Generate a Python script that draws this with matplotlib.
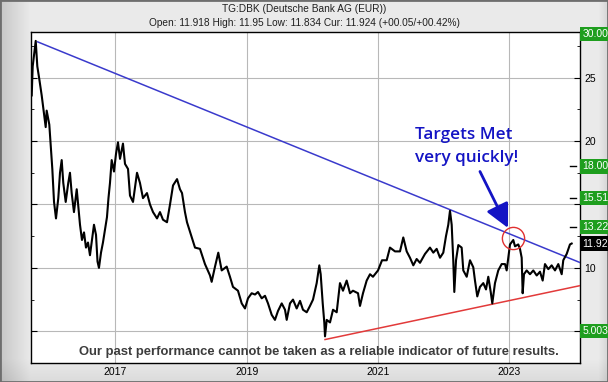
import numpy as np
import matplotlib
matplotlib.use("Agg")
import matplotlib.pyplot as plt

# DBK close (decimal year, EUR)
years = [2015.723, 2015.738, 2015.784, 2015.808, 2015.838, 2015.875, 2015.899, 2015.936,
         2015.951, 2015.991, 2016.017, 2016.037, 2016.063, 2016.093, 2016.128, 2016.154,
         2016.180, 2016.204, 2016.241, 2016.280, 2016.306, 2016.332, 2016.367, 2016.409,
         2016.433, 2016.459, 2016.489, 2016.520, 2016.550, 2016.581, 2016.611, 2016.642,
         2016.672, 2016.703, 2016.726, 2016.748, 2016.779, 2016.809, 2016.840, 2016.870,
         2016.893, 2016.916, 2016.942, 2016.977, 2017.008, 2017.038, 2017.069, 2017.114,
         2017.145, 2017.191, 2017.221, 2017.267, 2017.328, 2017.373, 2017.419, 2017.480,
         2017.526, 2017.572, 2017.633, 2017.678, 2017.724, 2017.785, 2017.831, 2017.877,
         2017.938, 2017.983, 2018.014, 2018.059, 2018.090, 2018.151, 2018.212, 2018.288,
         2018.364, 2018.441, 2018.466, 2018.517, 2018.567, 2018.619, 2018.695, 2018.745,
         2018.791, 2018.867, 2018.924, 2018.974, 2019.020, 2019.076, 2019.127, 2019.172,
         2019.229, 2019.279, 2019.325, 2019.381, 2019.431, 2019.477, 2019.534, 2019.584,
         2019.610, 2019.660, 2019.706, 2019.762, 2019.813, 2019.858, 2019.915, 2019.965,
         2020.011, 2020.067, 2020.107, 2020.128, 2020.159, 2020.183, 2020.194, 2020.220,
         2020.270, 2020.316, 2020.372, 2020.422, 2020.468, 2020.524, 2020.575, 2020.620,
         2020.697, 2020.727, 2020.773, 2020.829, 2020.880, 2020.925, 2021.002, 2021.063,
         2021.134, 2021.184, 2021.261, 2021.337, 2021.387, 2021.439, 2021.489, 2021.540,
         2021.591, 2021.642, 2021.718, 2021.794, 2021.845, 2021.896, 2021.947, 2021.997,
         2022.038, 2022.073, 2022.099, 2022.125, 2022.149, 2022.165, 2022.191, 2022.226,
         2022.277, 2022.302, 2022.354, 2022.404, 2022.454, 2022.480, 2022.515, 2022.556,
         2022.607, 2022.648, 2022.683, 2022.720, 2022.744, 2022.785, 2022.835, 2022.887,
         2022.938, 2022.963, 2022.988, 2023.014, 2023.064, 2023.090, 2023.140, 2023.166,
         2023.192, 2023.207, 2023.227, 2023.268, 2023.319, 2023.369, 2023.421, 2023.471,
         2023.512, 2023.547, 2023.598, 2023.649, 2023.700, 2023.750, 2023.802, 2023.826,
         2023.878, 2023.928, 2023.954]
prices = [23.6, 25.9, 27.9, 25.9, 24.9, 23.6, 22.6, 21.1,
          22.4, 21.3, 19.3, 17.8, 15.2, 13.9, 15.5, 17.5,
          18.5, 16.7, 15.2, 16.7, 17.5, 15.9, 14.4, 16.2,
          14.9, 13.4, 12.2, 12.8, 11.6, 12.0, 11.0, 12.2,
          13.4, 12.6, 10.5, 10.0, 11.2, 12.0, 13.0, 14.0,
          15.5, 16.7, 18.5, 17.6, 19.0, 19.9, 18.6, 19.8,
          18.2, 17.8, 15.7, 15.2, 17.5, 16.7, 15.5, 15.9,
          15.0, 14.4, 13.9, 14.4, 13.8, 13.6, 15.0, 16.5,
          17.0, 16.2, 15.9, 14.4, 13.6, 12.6, 11.6, 11.5,
          10.3, 9.4, 8.9, 10.1, 11.2, 9.8, 10.1, 9.3,
          8.5, 8.2, 7.2, 6.8, 7.6, 8.0, 7.9, 8.1,
          7.6, 7.8, 7.2, 6.3, 5.9, 6.6, 7.2, 6.7,
          5.9, 7.2, 7.5, 6.8, 7.4, 6.7, 6.5, 7.0,
          7.5, 8.8, 10.2, 9.5, 7.2, 5.7, 4.6, 5.9,
          5.7, 6.7, 6.5, 8.8, 8.2, 9.0, 8.0, 8.2,
          8.0, 7.0, 8.0, 9.0, 9.5, 9.3, 9.8, 10.6,
          10.6, 11.6, 11.3, 11.3, 12.4, 11.3, 10.8, 10.2,
          10.7, 10.4, 11.1, 11.6, 11.2, 11.5, 10.8, 11.2,
          12.5, 13.4, 14.5, 13.4, 10.6, 8.1, 10.6, 11.8,
          11.6, 9.8, 9.3, 10.6, 10.05, 9.0, 7.75, 8.5,
          8.8, 8.3, 9.3, 8.1, 7.2, 8.8, 9.8, 10.3,
          10.3, 9.8, 10.8, 11.85, 12.2, 11.7, 11.85, 11.5,
          10.8, 8.0, 9.5, 9.8, 9.5, 9.8, 9.4, 9.7,
          9.0, 10.3, 9.9, 10.2, 9.8, 10.3, 9.5, 10.6,
          11.1, 11.85, 11.92]

# trend lines (start, end)
resist_x = [2015.814, 2024.081]
resist_y = [27.82, 10.42]
support_x = [2020.194, 2024.081]
support_y = [4.35, 8.6]

# target levels on the right axis
target_levels = [28.46, 18.00, 15.51, 13.22, 5.003]
target_labels = ["30.00", "18.00", "15.51", "13.22", "5.003"]
cur_price = 11.92

title = "TG:DBK (Deutsche Bank AG (EUR))"
subtitle = "Open: 11.918 High: 11.95 Low: 11.834 Cur: 11.924 (+00.05/+00.42%)"
disclaimer = "Our past performance cannot be taken as a reliable indicator of future results."

W, H = 608, 382
fig = plt.figure(figsize=(W / 100, H / 100), dpi=100)

# grey gradient background
bg = fig.add_axes([0, 0, 1, 1], zorder=-10)
gx = np.linspace(0, 1, W)
gy = np.linspace(0, 1, H)
GX, GY = np.meshgrid(gx, gy)
shade = 0.92 - 0.14 * np.clip(1 - GX / 0.05, 0, 1) - 0.06 * np.clip((GY - 0.94) / 0.06, 0, 1) \
    - 0.08 * np.clip((GX - 0.985) / 0.015, 0, 1)
bg.imshow(np.dstack([shade] * 3), aspect="auto", extent=[0, 1, 0, 1], origin="upper")
bg.set_xlim(0, 1)
bg.set_ylim(0, 1)
bg.axis("off")
bg.add_patch(plt.Rectangle((0, 0), 1, 1, fill=False, edgecolor="#6e6e6e", lw=2))

ax = fig.add_axes([31 / W, 1 - 363 / H, (580 - 31) / W, (363 - 32) / H])
ax.set_facecolor("white")
ax.set_xlim(2015.712, 2024.081)
ax.set_ylim(3.15, 28.6)

ax.set_xticks([2017, 2019, 2021, 2023])
ax.set_xticklabels(["2017", "2019", "2021", "2023"], family="Liberation Sans", fontsize=7.5)
ax.set_yticks([5, 10, 15, 20, 25])
ax.set_yticklabels(["", "10", "", "20", "25"], family="Liberation Sans", fontsize=7.5)
ax.set_yticks(np.arange(2.5, 28.6, 5), minor=True)
ax.yaxis.tick_right()
ax.tick_params(axis="x", length=0, pad=3)
ax.tick_params(axis="y", which="both", direction="in", left=True, right=True, pad=3)
ax.tick_params(axis="y", which="major", length=4)
ax.tick_params(axis="y", which="minor", length=2.5)
ax.grid(True, color="#b8b8b8", lw=0.8)
ax.set_axisbelow(True)
for s in ax.spines.values():
    s.set_color("black")
    s.set_linewidth(1)

ax.plot(resist_x, resist_y, color="#3a3acc", lw=1.1, zorder=3)
ax.plot(support_x, support_y, color="#e23a3a", lw=1.1, zorder=3)
ax.plot(years, prices, color="black", lw=1.5, zorder=4)

# right hand target boxes
ytr = ax.get_yaxis_transform()
for lvl, lab in zip(target_levels, target_labels):
    ax.text(1.004, lvl, lab, transform=ytr, ha="left", va="center", color="white",
            fontsize=7.5, family="Liberation Sans", clip_on=False, zorder=6,
            bbox=dict(facecolor="#1e9e1e", edgecolor="none", pad=1.6))
ax.text(1.004, cur_price, "11.92", transform=ytr, ha="left", va="center", color="white",
        fontsize=7.5, family="Liberation Sans", clip_on=False, zorder=6,
        bbox=dict(facecolor="black", edgecolor="none", pad=1.6))
for lvl in target_levels[1:4]:
    ax.plot([0.982, 0.992], [lvl, lvl], transform=ytr, color="black", lw=1, zorder=5)

# annotation
ax.text(2021.567, 20.45, "Targets Met", color="#1414c4", fontsize=12.3, family="Open Sans",
        weight="semibold", va="center", ha="left", zorder=6)
ax.text(2021.567, 18.7, "very quickly!", color="#1414c4", fontsize=12.3, family="Open Sans",
        weight="semibold", va="center", ha="left", zorder=6)
ax.annotate("", xy=(2022.983, 13.15), xytext=(2022.556, 17.6),
            arrowprops=dict(arrowstyle="-|>,head_length=0.8,head_width=0.4", color="#1414c4",
                            lw=2, mutation_scale=18, shrinkA=0, shrinkB=0), zorder=6)
ax.plot([2023.064], [12.36], marker="o", markersize=16, fillstyle="none",
        markeredgecolor="#e03030", mew=1, zorder=6)

note = ax.text(0.5246, 0.033, disclaimer, transform=ax.transAxes, ha="center", va="center",
               fontsize=11, weight="bold", color="#3c3c3c", family="Liberation Sans",
               zorder=7)
# squeeze the note so it spans about 481 px like the original
fig.canvas.draw()
w = note.get_window_extent().width
if w > 481:
    note.set_fontsize(11 * 481 / w)

fig.text(0.5, 1 - 9 / H, title, ha="center", va="center", fontsize=7.3,
         family="Liberation Sans", color="#202020")
fig.text(0.5, 1 - 23 / H, subtitle, ha="center", va="center", fontsize=7.3,
         family="Liberation Sans", color="#202020")

fig.savefig("out.png", dpi=100)
